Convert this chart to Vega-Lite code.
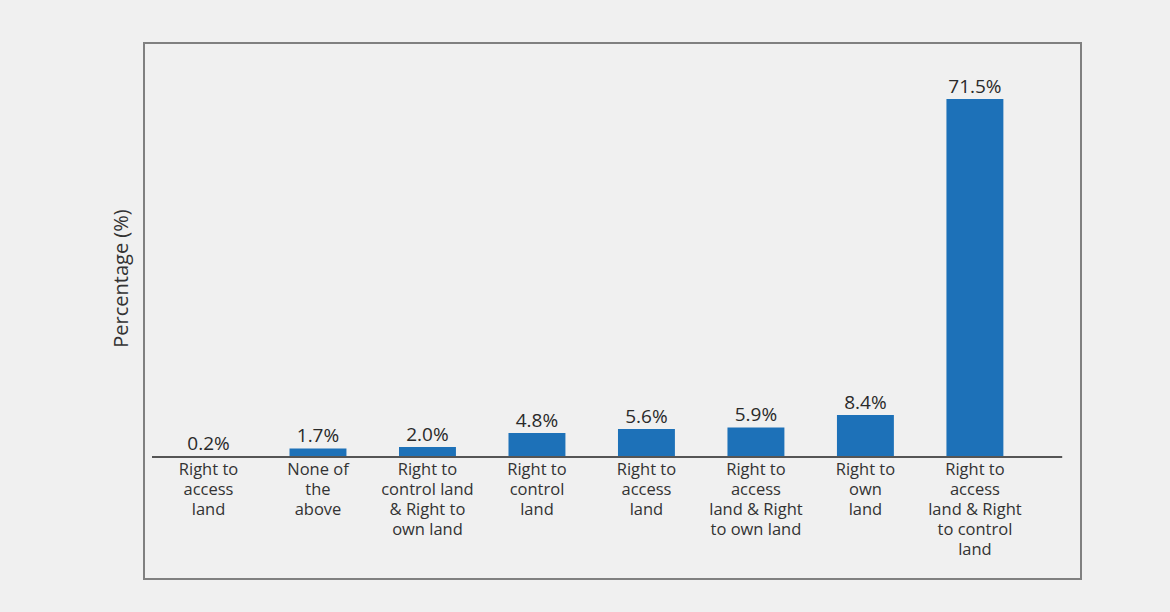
{
  "$schema": "https://vega.github.io/schema/vega-lite/v6.json",
  "width": 937,
  "height": 536,
  "autosize": {"type": "none"},
  "padding": {"left": 144, "top": 43, "right": 89, "bottom": 33},
  "background": "#f0f0f0",
  "config": {
    "view": {"stroke": "#808080", "strokeWidth": 2, "fill": "#f0f0f0"},
    "font": "Open Sans"
  },
  "data": {
    "values": [
      {"category": "Right to|access|land", "value": 0.2},
      {"category": "None of|the|above", "value": 1.7},
      {"category": "Right to|control land|& Right to|own land", "value": 2.0},
      {"category": "Right to|control|land", "value": 4.8},
      {"category": "Right to|access|land ", "value": 5.6},
      {"category": "Right to|access|land & Right|to own land", "value": 5.9},
      {"category": "Right to|own|land", "value": 8.4},
      {"category": "Right to|access|land & Right|to control|land", "value": 71.5}
    ]
  },
  "transform": [
    {"calculate": "format(datum.value, '.1f') + '%'", "as": "label"}
  ],
  "encoding": {
    "x": {
      "field": "category",
      "type": "nominal",
      "sort": null,
      "scale": {"paddingInner": 0.48, "paddingOuter": 0.519, "align": 0.317},
      "axis": {
        "orient": "bottom",
        "offset": -122,
        "title": null,
        "labelAngle": 0,
        "labelExpr": "split(datum.label, '|')",
        "labelFont": "Open Sans",
        "labelFontSize": 16.5,
        "labelFontWeight": 500,
        "labelColor": "#333333",
        "labelLineHeight": 20,
        "labelBaseline": "top",
        "labelPadding": 4,
        "ticks": false,
        "domain": false,
        "grid": false
      }
    },
    "y": {
      "field": "value",
      "type": "quantitative",
      "scale": {"domain": [-24.37, 82.7], "nice": false, "zero": false},
      "axis": {
        "title": "Percentage (%)",
        "titleFont": "Open Sans",
        "titleFontSize": 20,
        "titleFontWeight": 500,
        "titleColor": "#333333",
        "titleX": -13,
        "titleY": 235,
        "labels": false,
        "ticks": false,
        "domain": false,
        "grid": false
      }
    }
  },
  "layer": [
    {
      "mark": {"type": "bar", "color": "#1d71b8"},
      "encoding": {"y2": {"datum": 0}}
    },
    {
      "mark": {"type": "rule", "color": "#555555", "strokeWidth": 2},
      "encoding": {
        "x": {"datum": "Right to|access|land", "type": "nominal", "bandPosition": -0.49},
        "x2": {"datum": "Right to|access|land & Right|to control|land", "bandPosition": 2.03},
        "y": {"datum": 0, "type": "quantitative"}
      }
    },
    {
      "mark": {
        "type": "text",
        "baseline": "alphabetic",
        "dy": -6,
        "fontSize": 19,
        "fontWeight": 500,
        "color": "#2a2a2a",
        "font": "Open Sans"
      },
      "encoding": {"text": {"field": "label"}}
    }
  ]
}
